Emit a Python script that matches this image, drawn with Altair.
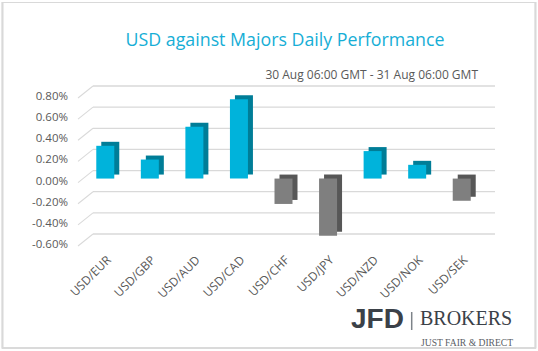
import altair as alt
import pandas as pd

pairs = ["USD/EUR", "USD/GBP", "USD/AUD", "USD/CAD", "USD/CHF",
         "USD/JPY", "USD/NZD", "USD/NOK", "USD/SEK"]
values = [0.31, 0.18, 0.49, 0.75, -0.24, -0.54, 0.26, 0.13, -0.21]
y_ticks = [-0.6, -0.4, -0.2, 0.0, 0.2, 0.4, 0.6, 0.8]

title_text = "USD against Majors Daily Performance"
subtitle_text = "30 Aug 06:00 GMT - 31 Aug 06:00 GMT"

df = pd.DataFrame({"pair": pairs, "value": values})
df["sign"] = ["pos" if v >= 0 else "neg" for v in values]
grid_df = pd.DataFrame({"v": y_ticks})

FONT = "Open Sans"
W, H = 401, 148

yscale = alt.Scale(domain=[-0.6, 0.8], nice=False, zero=False)
xscale = alt.Scale(domain=pairs, paddingInner=0, paddingOuter=0)

front_col = alt.Color("sign:N", scale=alt.Scale(domain=["pos", "neg"], range=["#00b3db", "#7f7f7f"]), legend=None)
back_col = alt.Color("sign:N", scale=alt.Scale(domain=["pos", "neg"], range=["#007d97", "#575757"]), legend=None)

border = alt.Chart(grid_df).mark_rect(fill=None, stroke="#d9d9d9", strokeWidth=1.2).encode(
    x=alt.value(-80.5), x2=alt.value(452.5), y=alt.value(-91.5), y2=alt.value(254)
)

grid = alt.Chart(grid_df).mark_rule(color="#d9d9d9", strokeWidth=1.3, yOffset=-8, y2Offset=-8).encode(
    y=alt.Y("v:Q", scale=yscale, axis=None),
    x=alt.value(10), x2=alt.value(412)
)

diag = alt.Chart(grid_df).mark_rule(color="#d9d9d9", strokeWidth=1.1, yOffset=4, y2Offset=-8).encode(
    y=alt.Y("v:Q", scale=yscale, axis=None), y2="v:Q",
    x=alt.value(-5), x2=alt.value(10)
)

ylabels = alt.Chart(grid_df).transform_calculate(
    lab="(datum.v < 0 ? '-' : '') + format(abs(datum.v), '.2f') + '%'"
).mark_text(font=FONT, fontSize=11.5, color="#595959", align="right", baseline="middle", dy=3).encode(
    y=alt.Y("v:Q", scale=yscale, axis=None),
    x=alt.value(-15),
    text="lab:N"
)

xaxis = alt.Axis(labelAngle=-45, labelFont=FONT, labelFontSize=12, labelColor="#595959",
                 ticks=False, domain=False, grid=False, labelPadding=12, labelOverlap=False, title=None)

back = alt.Chart(df).mark_bar(size=18, xOffset=5, x2Offset=5, yOffset=-4, y2Offset=-4).encode(
    x=alt.X("pair:N", scale=xscale, sort=pairs, axis=xaxis),
    y=alt.Y("value:Q", scale=yscale, axis=None), y2=alt.datum(0),
    color=back_col
)

front = alt.Chart(df).mark_bar(size=18).encode(
    x=alt.X("pair:N", scale=xscale, sort=pairs),
    y=alt.Y("value:Q", scale=yscale, axis=None), y2=alt.datum(0),
    color=front_col
)

txt_df = pd.DataFrame({"t": [title_text]})
title = alt.Chart(txt_df).mark_text(font=FONT, fontSize=17.8, color="#16aed6", align="center",
                                    baseline="alphabetic").encode(
    text="t:N", x=alt.value(202), y=alt.value(-48))

sub_df = pd.DataFrame({"t": [subtitle_text]})
subtitle = alt.Chart(sub_df).mark_text(font=FONT, fontSize=12, color="#595959", align="right",
                                       baseline="alphabetic").encode(
    text="t:N", x=alt.value(395), y=alt.value(-15.5))

jfd = alt.Chart(pd.DataFrame({"t": ["JFD"]})).mark_text(
    font="Liberation Sans", fontWeight="bold", fontSize=28, color="#3b4148",
    align="left", baseline="alphabetic").encode(text="t:N", x=alt.value(268), y=alt.value(234))

sep = alt.Chart(pd.DataFrame({"t": [1]})).mark_rule(color="#7d8389", strokeWidth=1.5).encode(
    x=alt.value(328.7), y=alt.value(218), y2=alt.value(236))

brokers = alt.Chart(pd.DataFrame({"t": ["BROKERS"]})).mark_text(
    font="Liberation Serif", fontSize=20, color="#3b4148",
    align="left", baseline="alphabetic").encode(text="t:N", x=alt.value(337), y=alt.value(231))

tag = alt.Chart(pd.DataFrame({"t": ["JUST FAIR & DIRECT"]})).mark_text(
    font="Liberation Serif", fontSize=9.6, color="#5a6066",
    align="left", baseline="alphabetic").encode(text="t:N", x=alt.value(338), y=alt.value(251.5))

chart = alt.layer(border, grid, diag, ylabels, back, front, title, subtitle, jfd, sep, brokers, tag).properties(
    width=W, height=H,
    autosize=alt.AutoSizeParams(type="none"),
    padding={"left": 83, "top": 94, "right": 54, "bottom": 109},
    background="white"
).resolve_scale(color="independent").configure_view(stroke=None)

chart.save("out.html", embed_options={"renderer": "svg", "actions": False})
